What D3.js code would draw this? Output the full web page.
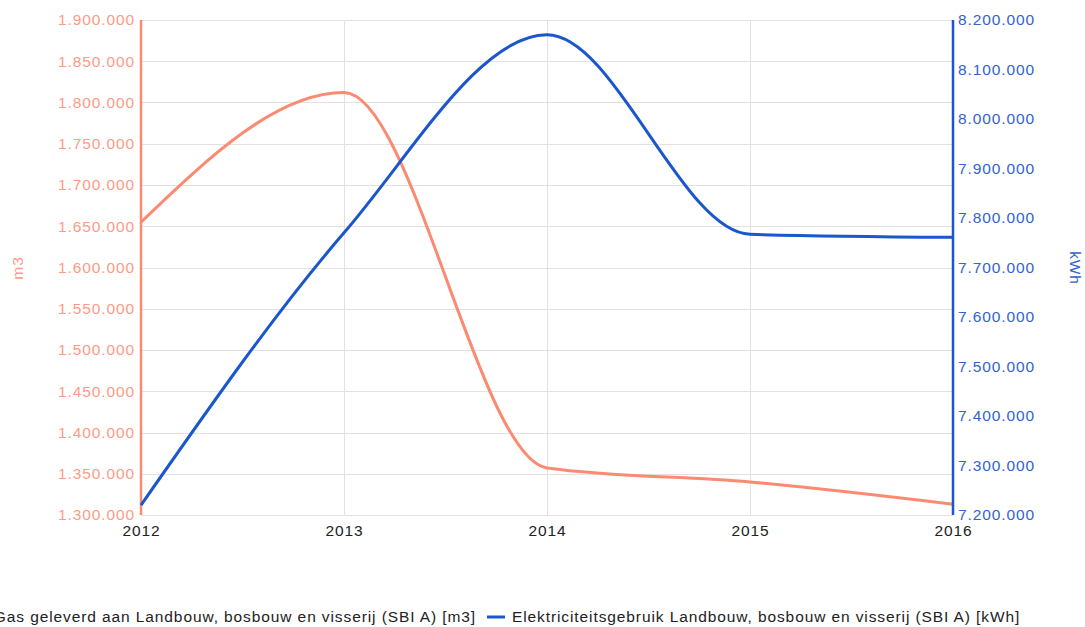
<!DOCTYPE html>
<html>
<head>
<meta charset="utf-8">
<script src="https://cdn.jsdelivr.net/npm/d3@7"></script>
<style>
  html, body { margin: 0; padding: 0; background: #fff; }
  svg { display: block; font-family: Arial, "Liberation Sans", sans-serif; }
</style>
</head>
<body>
<svg id="chart" width="1085" height="627"></svg>
<script>
// ---- data ----
const years = [2012, 2013, 2014, 2015, 2016];
const gasValues = [1655000, 1812000, 1357000, 1340000, 1313000];
const elecValues = [7220000, 7770000, 8170000, 7767000, 7761000];
const leftTicks = [1300000, 1350000, 1400000, 1450000, 1500000, 1550000, 1600000, 1650000, 1700000, 1750000, 1800000, 1850000, 1900000];
const rightTicks = [7200000, 7300000, 7400000, 7500000, 7600000, 7700000, 7800000, 7900000, 8000000, 8100000, 8200000];
const gasName = "Gas geleverd aan Landbouw, bosbouw en visserij (SBI A) [m3]";
const elecName = "Elektriciteitsgebruik Landbouw, bosbouw en visserij (SBI A) [kWh]";
const leftTitle = "m3";
const rightTitle = "kWh";

// ---- styles ----
const gasColor = "#fa8b72";
const gasText = "#ff9a85";
const elecColor = "#1a56cc";
const elecText = "#3263d2";
const gridColor = "#e2e2e2";
const fontSize = "15.5px";
const spacing = "0.9px";

const svg = d3.select("#chart");
const m = { left: 141, right: 953, top: 20, bottom: 515 };

const nl = d3.formatLocale({ decimal: ",", thousands: ".", grouping: [3], currency: ["€", ""] });
const fmt = nl.format(",d");

const x = d3.scaleLinear().domain([2012, 2016]).range([m.left, m.right]);
const yL = d3.scaleLinear().domain([1300000, 1900000]).range([m.bottom, m.top]);
const yR = d3.scaleLinear().domain([7200000, 8200000]).range([m.bottom, m.top]);

function styleText(sel, color) {
  sel.attr("fill", color).style("font-size", fontSize).style("letter-spacing", spacing)
    .style("font-family", "Arial, 'Liberation Sans', sans-serif");
}

// gridlines
svg.append("g").selectAll("line").data(leftTicks).join("line")
  .attr("x1", m.left).attr("x2", m.right)
  .attr("y1", d => Math.round(yL(d)) + 0.5).attr("y2", d => Math.round(yL(d)) + 0.5)
  .attr("stroke", gridColor).attr("stroke-width", 1);
svg.append("g").selectAll("line").data(years).join("line")
  .attr("x1", d => Math.round(x(d)) + 0.5).attr("x2", d => Math.round(x(d)) + 0.5)
  .attr("y1", m.top).attr("y2", m.bottom)
  .attr("stroke", gridColor).attr("stroke-width", 1);

// left axis
const axL = svg.append("g").attr("transform", `translate(${m.left},0)`)
  .call(d3.axisLeft(yL).tickValues(leftTicks).tickFormat(fmt).tickSize(0).tickPadding(6));
axL.select(".domain").remove();
styleText(axL.selectAll("text"), gasText);
svg.append("line").attr("x1", m.left).attr("x2", m.left).attr("y1", m.top).attr("y2", m.bottom)
  .attr("stroke", gasColor).attr("stroke-width", 2.5);

// right axis
const axR = svg.append("g").attr("transform", `translate(${m.right},0)`)
  .call(d3.axisRight(yR).tickValues(rightTicks).tickFormat(fmt).tickSize(0).tickPadding(5));
axR.select(".domain").remove();
styleText(axR.selectAll("text"), elecText);

// bottom axis
const axB = svg.append("g").attr("transform", `translate(0,${m.bottom})`)
  .call(d3.axisBottom(x).tickValues(years).tickFormat(d3.format("d")).tickSize(0).tickPadding(10));
axB.select(".domain").remove();
styleText(axB.selectAll("text"), "#222");

// axis titles
styleText(svg.append("text").attr("transform", `translate(23,268) rotate(-90)`)
  .attr("text-anchor", "middle").text(leftTitle), gasText);
styleText(svg.append("text").attr("transform", `translate(1070,268) rotate(90)`)
  .attr("text-anchor", "middle").text(rightTitle), elecText);

// lines
const gasLine = d3.line().x((d, i) => x(years[i])).y(d => yL(d)).curve(d3.curveMonotoneX);
const elecLine = d3.line().x((d, i) => x(years[i])).y(d => yR(d)).curve(d3.curveMonotoneX);
svg.append("path").attr("d", gasLine(gasValues)).attr("fill", "none")
  .attr("stroke", gasColor).attr("stroke-width", 3);
svg.append("path").attr("d", elecLine(elecValues)).attr("fill", "none")
  .attr("stroke", elecColor).attr("stroke-width", 3);

// right axis line on top
svg.append("line").attr("x1", m.right).attr("x2", m.right).attr("y1", m.top).attr("y2", m.bottom)
  .attr("stroke", elecColor).attr("stroke-width", 2.5);

// legend
const ly = 617;
const leg = svg.append("g");
styleText(leg.append("text").attr("x", 512).attr("y", ly + 5).text(elecName), "#222");
leg.append("line").attr("x1", 487).attr("x2", 505).attr("y1", ly).attr("y2", ly)
  .attr("stroke", elecColor).attr("stroke-width", 3);
const t1 = leg.append("text").attr("x", 476).attr("y", ly + 5).attr("text-anchor", "end").text(gasName);
styleText(t1, "#222");
const w1 = t1.node().getComputedTextLength();
leg.append("line").attr("x1", 476 - w1 - 25).attr("x2", 476 - w1 - 7).attr("y1", ly).attr("y2", ly)
  .attr("stroke", gasColor).attr("stroke-width", 3);
</script>
</body>
</html>
